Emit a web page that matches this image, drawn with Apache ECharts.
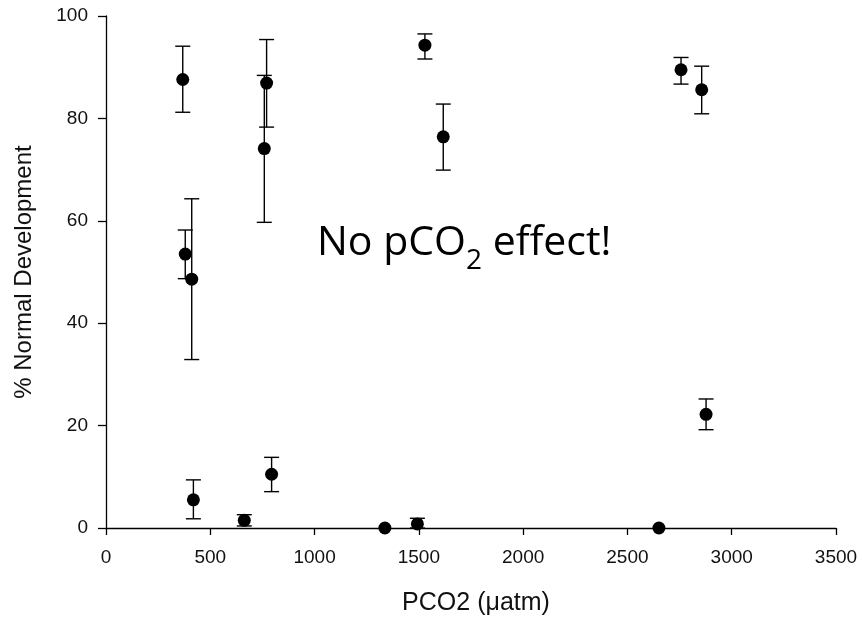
<!DOCTYPE html>
<html>
<head>
<meta charset="utf-8">
<script src="https://cdn.jsdelivr.net/npm/echarts@6/dist/echarts.min.js"></script>
<style>html,body{margin:0;padding:0;background:#fff}#c{width:862px;height:619px}</style>
</head>
<body>
<div id="c"></div>
<script>
var pco2   = [368, 380, 411, 770, 759, 419, 663, 794, 1337, 1493, 1529, 1617, 2757, 2856, 2877, 2651];
var normal = [87.6, 53.5, 48.6, 86.9, 74.1, 5.5, 1.5, 10.5, 0, 0.8, 94.3, 76.4, 89.5, 85.6, 22.2, 0];
var errHigh = [94.1, 58.2, 64.3, 95.4, 88.4, 9.4, 2.6, 13.8, null, 1.9, 96.5, 82.8, 91.9, 90.2, 25.2, null];
var errLow  = [81.2, 48.7, 32.9, 78.3, 59.7, 1.8, 0.4, 7.1, null, 0, 91.6, 69.9, 86.7, 80.9, 19.2, null];
var xTicks = [0, 500, 1000, 1500, 2000, 2500, 3000, 3500];
var yTicks = [0, 20, 40, 60, 80, 100];

var points = pco2.map(function (x, i) { return [x, normal[i]]; });
var bars = [];
pco2.forEach(function (x, i) {
  if (errHigh[i] != null) bars.push([x, errLow[i], errHigh[i]]);
});

var chart = echarts.init(document.getElementById('c'), null, {renderer: 'canvas'});
var axisFont = 'Liberation Sans, Arial, sans-serif';
chart.setOption({
  backgroundColor: '#fff',
  animation: false,
  grid: {left: 106, right: 26, top: 16, bottom: 91, containLabel: false, outerBoundsMode: 'none'},
  xAxis: {
    type: 'value', min: xTicks[0], max: xTicks[xTicks.length - 1], interval: 500,
    name: 'PCO2 (\u03BCatm)', nameLocation: 'middle', nameGap: 63,
    nameTextStyle: {fontFamily: axisFont, fontSize: 25, color: '#111', padding: [0, 0, 0, 10]},
    axisLine: {show: true, onZero: false, lineStyle: {color: '#000', width: 1.3}},
    axisTick: {show: true, inside: false, length: 7, lineStyle: {color: '#000', width: 1.3}},
    axisLabel: {fontFamily: axisFont, fontSize: 19, color: '#111', margin: 20,
      formatter: function (v) { return String(v); }},
    splitLine: {show: false}
  },
  yAxis: {
    type: 'value', min: yTicks[0], max: yTicks[yTicks.length - 1], interval: 20,
    name: '% Normal Development', nameLocation: 'middle', nameGap: 70, nameRotate: 90,
    nameTextStyle: {fontFamily: axisFont, fontSize: 24, color: '#111'},
    axisLine: {show: true, onZero: false, lineStyle: {color: '#000', width: 1.3}},
    axisTick: {show: true, inside: false, length: 8, lineStyle: {color: '#000', width: 1.3}},
    axisLabel: {fontFamily: axisFont, fontSize: 19, color: '#111', margin: 18,
      formatter: function (v) { return String(v); }},
    splitLine: {show: false}
  },
  series: [
    {
      type: 'custom',
      data: bars,
      renderItem: function (params, api) {
        var x = api.value(0);
        var lo = api.coord([x, api.value(1)]);
        var hi = api.coord([x, api.value(2)]);
        var hw = 7.5;
        var st = {stroke: '#000', lineWidth: 1.4};
        return {
          type: 'group',
          children: [
            {type: 'line', shape: {x1: lo[0], y1: lo[1], x2: hi[0], y2: hi[1]}, style: st},
            {type: 'line', shape: {x1: hi[0] - hw, y1: hi[1], x2: hi[0] + hw, y2: hi[1]}, style: st},
            {type: 'line', shape: {x1: lo[0] - hw, y1: lo[1], x2: lo[0] + hw, y2: lo[1]}, style: st}
          ]
        };
      },
      z: 2
    },
    {
      type: 'scatter',
      data: points,
      symbol: 'circle',
      symbolSize: 13,
      itemStyle: {color: '#000', opacity: 1},
      z: 3
    }
  ],
  graphic: [{
    type: 'text',
    left: 317,
    top: 223,
    style: {
      text: '{a|No pCO}{s|2}{a| effect!}',
      rich: {
        a: {fontFamily: 'Open Sans', fontSize: 41, lineHeight: 40, verticalAlign: 'top', fill: '#000'},
        s: {fontFamily: 'Open Sans', fontSize: 28, lineHeight: 20, padding: [24, 0, 0, 0], verticalAlign: 'top', fill: '#000'}
      }
    }
  }]
});
</script>
</body>
</html>
